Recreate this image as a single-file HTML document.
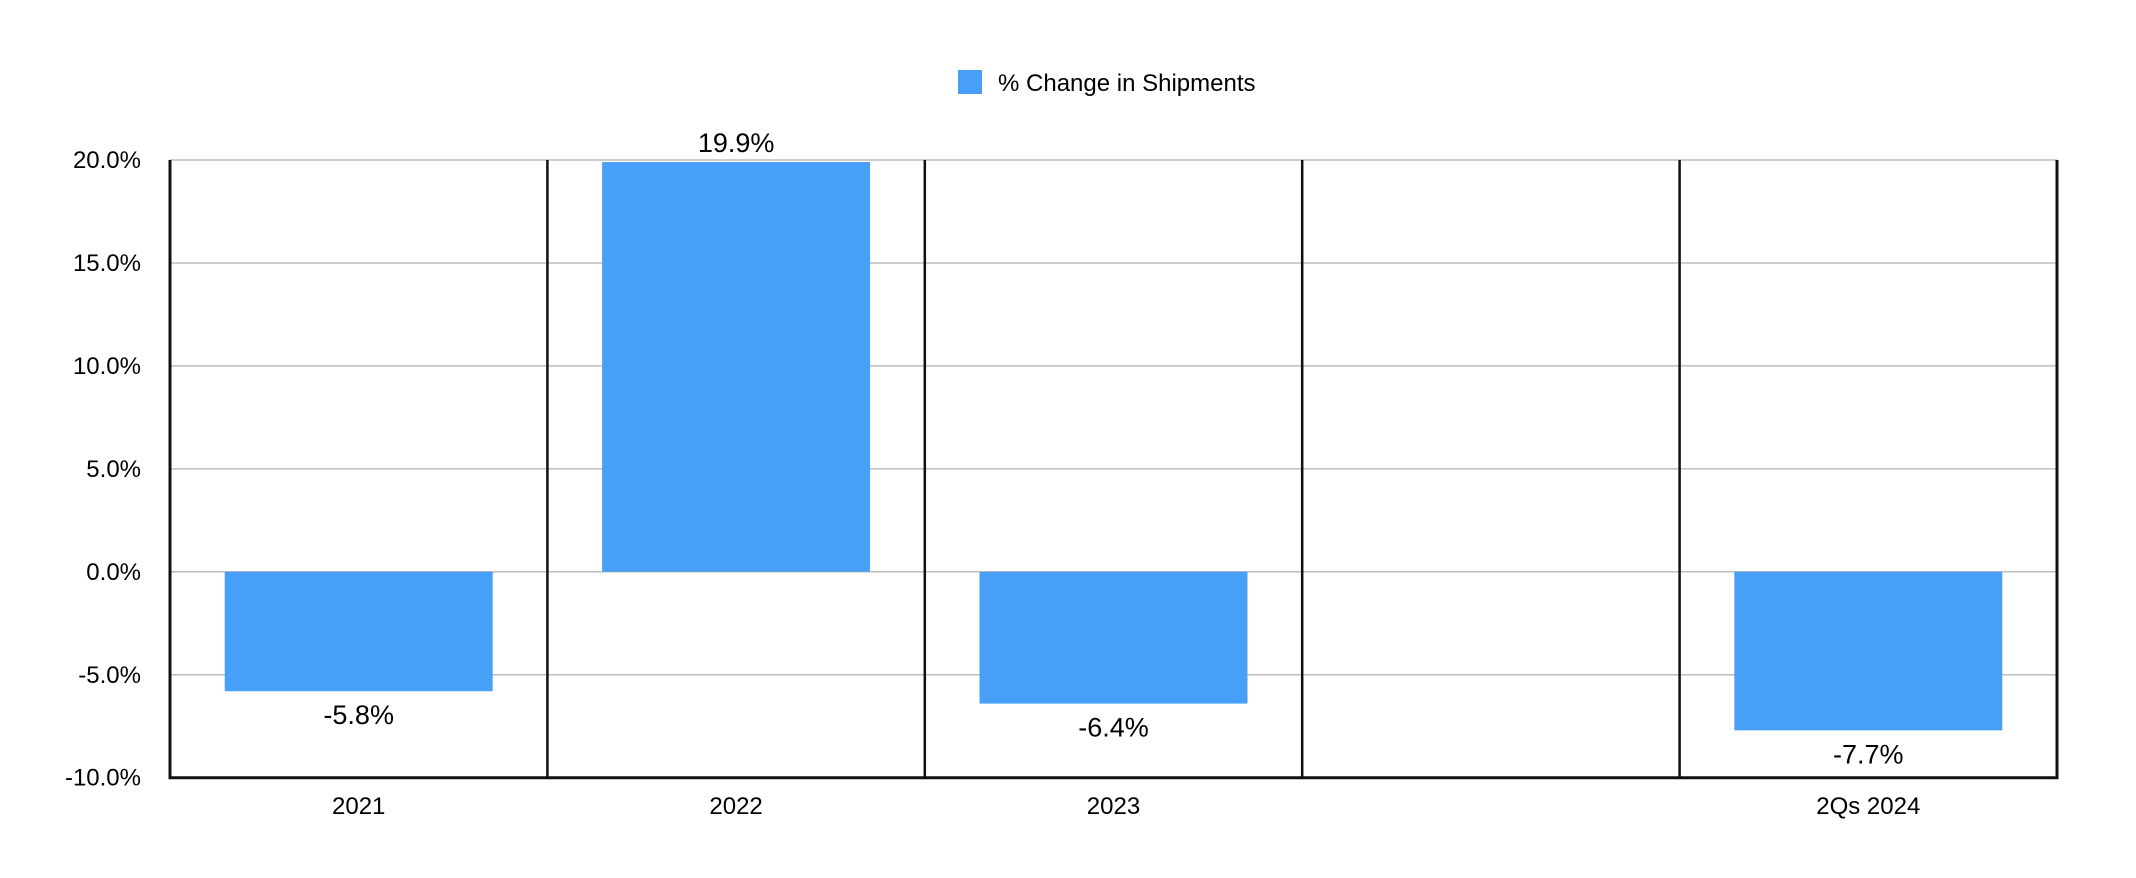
<!DOCTYPE html>
<html><head><meta charset="utf-8"><style>
html,body{margin:0;padding:0;background:#fff;}
svg{display:block;font-family:"Liberation Sans",Arial,sans-serif;}
</style></head><body>
<svg id="chart" width="2136" height="878" viewBox="0 0 2136 878">
<g>
<rect x="958" y="70" width="24" height="24" fill="#479ff8"/>
<text x="998" y="91" font-size="24" fill="#000">% Change in Shipments</text>
</g>
<g id="grid"></g><g id="bars"></g><g id="frame"></g><g id="labels"></g>
</svg>
<script>
const categories = ["2021","2022","2023","","2Qs 2024"];
const values = [-5.8, 19.9, -6.4, null, -7.7];
const valueLabels = ["-5.8%","19.9%","-6.4%","","-7.7%"];
const yTicks = [20, 15, 10, 5, 0, -5, -10];
const yTickLabels = ["20.0%","15.0%","10.0%","5.0%","0.0%","-5.0%","-10.0%"];

const L=170, R=2057, T=160, B=777.7, yMax=20, yMin=-10;
const NS="http://www.w3.org/2000/svg";
const bw=(R-L)/categories.length;
function y(v){return T+(yMax-v)/(yMax-yMin)*(B-T);}
function xc(i){return L+bw*(i+0.5);}
function mk(tag,attrs,parent,txt){const e=document.createElementNS(NS,tag);for(const k in attrs)e.setAttribute(k,attrs[k]);if(txt!==undefined)e.textContent=txt;document.getElementById(parent).appendChild(e);return e;}

yTicks.forEach((t,i)=>{
  const g=mk('line',{x1:L,x2:R,y1:y(t),y2:y(t),stroke:'#bdbdbd','stroke-width':1.5},'grid');
  
  
  const l=mk('text',{x:141,y:y(t)+8,'font-size':24,'text-anchor':'end',fill:'#000'},'labels',yTickLabels[i]);
  
  
});
values.forEach((v,i)=>{
  if(v===null) return;
  const w=bw*0.71, y0=y(0), y1=y(v);
  const r=mk('rect',{x:xc(i)-w/2,y:Math.min(y0,y1),width:w,height:Math.abs(y1-y0),fill:'#479ff8'},'bars');
  
  
  const ly = v>=0 ? y1-10 : y1+33;
  const t=mk('text',{x:xc(i),y:ly,'font-size':27,'text-anchor':'middle',fill:'#000'},'labels',valueLabels[i]);
  
  
});
categories.forEach((c,i)=>{
  const t=mk('text',{x:xc(i),y:814,'font-size':24,'text-anchor':'middle',fill:'#000'},'labels',c);
  
  
});
for(let i=1;i<categories.length;i++){
  const d=mk('line',{x1:L+bw*i,x2:L+bw*i,y1:T,y2:B,stroke:'#111','stroke-width':2.5},'frame');
  
  
}
const ax=mk('path',{d:`M${L},${T} V${B} H${R} V${T}`,fill:'none',stroke:'#111','stroke-width':3},'frame');


</script>
</body></html>
